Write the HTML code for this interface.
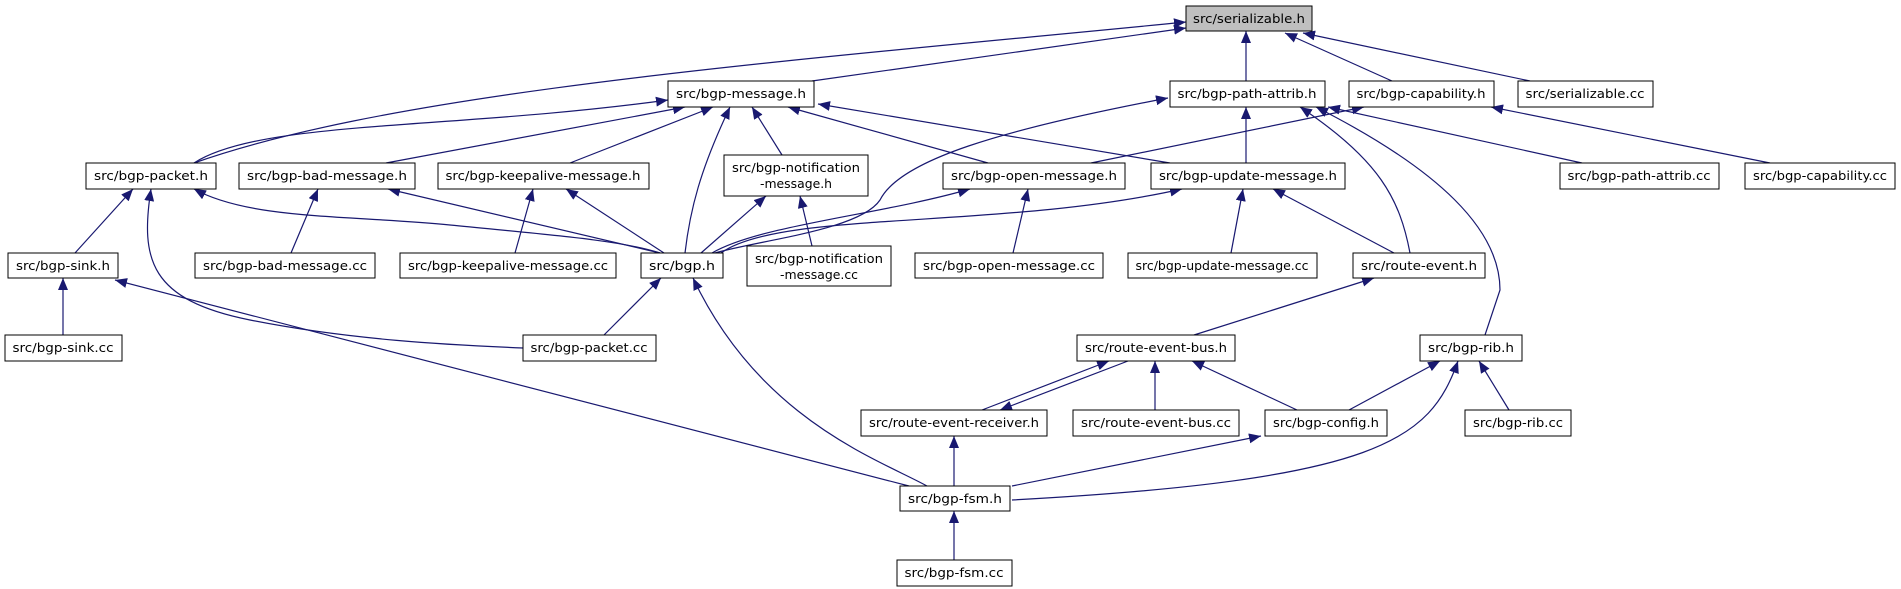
<!DOCTYPE html>
<html><head><meta charset="utf-8"><style>html,body{margin:0;padding:0;background:#fff}svg{display:block}</style></head>
<body>
<svg width="1901" height="589" viewBox="0 0 1901 589" xmlns="http://www.w3.org/2000/svg">
<defs>
<marker id="a" markerUnits="userSpaceOnUse" markerWidth="12" markerHeight="10" viewBox="0 0 12 10" refX="12" refY="5" orient="auto-start-reverse">
<path d="M0,0 L12,5 L0,10 z" fill="#191970"/>
</marker>
</defs>
<g fill="none" stroke="#191970" stroke-width="1.2" marker-start="url(#a)">
<path d="M1186,28 L812,81"/>
<path d="M1186,22 C800,60 400,90 194,163"/>
<path d="M1246,31 L1246,81"/>
<path d="M1285,33 L1392,81"/>
<path d="M1303,33 L1530,81"/>
<path d="M668,100 C450,130 260,120 194,163"/>
<path d="M685,107 L386,163"/>
<path d="M713,107 L570,163"/>
<path d="M730,107 C700,170 690,210 685,253"/>
<path d="M752,107 L782,155"/>
<path d="M788,107 L988,163"/>
<path d="M818,104 L1170,163"/>
<path d="M1168,98 C1000,130 900,160 880,200 C860,230 760,240 715,253"/>
<path d="M1246,107 L1246,163"/>
<path d="M1300,107 C1380,160 1400,200 1410,253"/>
<path d="M1316,107 C1440,170 1500,230 1500,290 L1485,335"/>
<path d="M1328,107 L1582,163"/>
<path d="M1364,107 L1091,163"/>
<path d="M1491,107 L1770,163"/>
<path d="M133,189 L75,253"/>
<path d="M151,189 C140,260 150,300 250,320 C350,340 450,345 523,348"/>
<path d="M194,189 C250,220 350,215 450,225 C550,235 620,240 660,253"/>
<path d="M318,189 L291,253"/>
<path d="M388,189 L660,253"/>
<path d="M533,189 L515,253"/>
<path d="M566,189 L664,253"/>
<path d="M766,196 L701,253"/>
<path d="M800,196 L812,246"/>
<path d="M970,189 C880,215 760,225 712,253"/>
<path d="M1028,189 L1013,253"/>
<path d="M1182,189 C1000,230 780,210 721,253"/>
<path d="M1243,189 L1231,253"/>
<path d="M1273,189 L1394,253"/>
<path d="M661,278 L604,335"/>
<path d="M693,278 C760,420 880,460 927,486"/>
<path d="M63,278 L63,335"/>
<path d="M115,280 L909,486"/>
<path d="M1374,278 L1194,335"/>
<path d="M1109,361 L982,410"/>
<path d="M1000,410 L1128,361"/>
<path d="M1155,361 L1155,410"/>
<path d="M1192,361 L1297,410"/>
<path d="M1440,361 L1349,410"/>
<path d="M1479,361 L1509,410"/>
<path d="M1458,361 C1430,440 1380,480 1012,500"/>
<path d="M954,436 L954,486"/>
<path d="M1261,436 L1012,486"/>
<path d="M954,511 L954,560"/>
</g>
<g font-family="DejaVu Sans, Liberation Sans, sans-serif" font-size="12" text-anchor="middle" fill="#000" lengthAdjust="spacingAndGlyphs">
<rect x="1186" y="6" width="126" height="25" fill="#bfbfbf" stroke="#000"/><text x="1249" y="23" textLength="112" lengthAdjust="spacingAndGlyphs">src/serializable.h</text>
<rect x="668" y="81" width="146" height="26" fill="#fff" stroke="#000"/><text x="741" y="98" textLength="130" lengthAdjust="spacingAndGlyphs">src/bgp-message.h</text>
<rect x="1170" y="81" width="155" height="26" fill="#fff" stroke="#000"/><text x="1247" y="98" textLength="139" lengthAdjust="spacingAndGlyphs">src/bgp-path-attrib.h</text>
<rect x="1349" y="81" width="145" height="26" fill="#fff" stroke="#000"/><text x="1421" y="98" textLength="129" lengthAdjust="spacingAndGlyphs">src/bgp-capability.h</text>
<rect x="1518" y="81" width="135" height="26" fill="#fff" stroke="#000"/><text x="1585" y="98" textLength="119" lengthAdjust="spacingAndGlyphs">src/serializable.cc</text>
<rect x="86" y="163" width="130" height="26" fill="#fff" stroke="#000"/><text x="151" y="180" textLength="114" lengthAdjust="spacingAndGlyphs">src/bgp-packet.h</text>
<rect x="239" y="163" width="176" height="26" fill="#fff" stroke="#000"/><text x="327" y="180" textLength="160" lengthAdjust="spacingAndGlyphs">src/bgp-bad-message.h</text>
<rect x="438" y="163" width="211" height="26" fill="#fff" stroke="#000"/><text x="543" y="180" textLength="195" lengthAdjust="spacingAndGlyphs">src/bgp-keepalive-message.h</text>
<rect x="724" y="155" width="144" height="41" fill="#fff" stroke="#000"/><text x="796" y="172" textLength="128" lengthAdjust="spacingAndGlyphs">src/bgp-notification</text><text x="796" y="188" textLength="72" lengthAdjust="spacingAndGlyphs">-message.h</text>
<rect x="943" y="163" width="182" height="26" fill="#fff" stroke="#000"/><text x="1034" y="180" textLength="166" lengthAdjust="spacingAndGlyphs">src/bgp-open-message.h</text>
<rect x="1151" y="163" width="194" height="26" fill="#fff" stroke="#000"/><text x="1248" y="180" textLength="178" lengthAdjust="spacingAndGlyphs">src/bgp-update-message.h</text>
<rect x="1560" y="163" width="159" height="26" fill="#fff" stroke="#000"/><text x="1639" y="180" textLength="143" lengthAdjust="spacingAndGlyphs">src/bgp-path-attrib.cc</text>
<rect x="1745" y="163" width="150" height="26" fill="#fff" stroke="#000"/><text x="1820" y="180" textLength="134" lengthAdjust="spacingAndGlyphs">src/bgp-capability.cc</text>
<rect x="8" y="253" width="110" height="25" fill="#fff" stroke="#000"/><text x="63" y="270" textLength="94" lengthAdjust="spacingAndGlyphs">src/bgp-sink.h</text>
<rect x="195" y="253" width="180" height="25" fill="#fff" stroke="#000"/><text x="285" y="270" textLength="164" lengthAdjust="spacingAndGlyphs">src/bgp-bad-message.cc</text>
<rect x="400" y="253" width="216" height="25" fill="#fff" stroke="#000"/><text x="508" y="270" textLength="200" lengthAdjust="spacingAndGlyphs">src/bgp-keepalive-message.cc</text>
<rect x="641" y="253" width="82" height="25" fill="#fff" stroke="#000"/><text x="682" y="270" textLength="66" lengthAdjust="spacingAndGlyphs">src/bgp.h</text>
<rect x="747" y="246" width="144" height="40" fill="#fff" stroke="#000"/><text x="819" y="263" textLength="128" lengthAdjust="spacingAndGlyphs">src/bgp-notification</text><text x="819" y="279" textLength="78" lengthAdjust="spacingAndGlyphs">-message.cc</text>
<rect x="915" y="253" width="188" height="25" fill="#fff" stroke="#000"/><text x="1009" y="270" textLength="172" lengthAdjust="spacingAndGlyphs">src/bgp-open-message.cc</text>
<rect x="1128" y="253" width="189" height="25" fill="#fff" stroke="#000"/><text x="1222" y="270" textLength="173" lengthAdjust="spacingAndGlyphs">src/bgp-update-message.cc</text>
<rect x="1353" y="253" width="132" height="25" fill="#fff" stroke="#000"/><text x="1419" y="270" textLength="116" lengthAdjust="spacingAndGlyphs">src/route-event.h</text>
<rect x="5" y="335" width="117" height="26" fill="#fff" stroke="#000"/><text x="63" y="352" textLength="101" lengthAdjust="spacingAndGlyphs">src/bgp-sink.cc</text>
<rect x="523" y="335" width="133" height="26" fill="#fff" stroke="#000"/><text x="589" y="352" textLength="117" lengthAdjust="spacingAndGlyphs">src/bgp-packet.cc</text>
<rect x="1077" y="335" width="158" height="26" fill="#fff" stroke="#000"/><text x="1156" y="352" textLength="142" lengthAdjust="spacingAndGlyphs">src/route-event-bus.h</text>
<rect x="1420" y="335" width="102" height="26" fill="#fff" stroke="#000"/><text x="1471" y="352" textLength="86" lengthAdjust="spacingAndGlyphs">src/bgp-rib.h</text>
<rect x="861" y="410" width="186" height="26" fill="#fff" stroke="#000"/><text x="954" y="427" textLength="170" lengthAdjust="spacingAndGlyphs">src/route-event-receiver.h</text>
<rect x="1073" y="410" width="166" height="26" fill="#fff" stroke="#000"/><text x="1156" y="427" textLength="150" lengthAdjust="spacingAndGlyphs">src/route-event-bus.cc</text>
<rect x="1265" y="410" width="122" height="26" fill="#fff" stroke="#000"/><text x="1326" y="427" textLength="106" lengthAdjust="spacingAndGlyphs">src/bgp-config.h</text>
<rect x="1465" y="410" width="106" height="26" fill="#fff" stroke="#000"/><text x="1518" y="427" textLength="90" lengthAdjust="spacingAndGlyphs">src/bgp-rib.cc</text>
<rect x="900" y="486" width="110" height="25" fill="#fff" stroke="#000"/><text x="955" y="503" textLength="94" lengthAdjust="spacingAndGlyphs">src/bgp-fsm.h</text>
<rect x="897" y="560" width="115" height="26" fill="#fff" stroke="#000"/><text x="954" y="577" textLength="99" lengthAdjust="spacingAndGlyphs">src/bgp-fsm.cc</text>
</g>
</svg>
</body></html>
